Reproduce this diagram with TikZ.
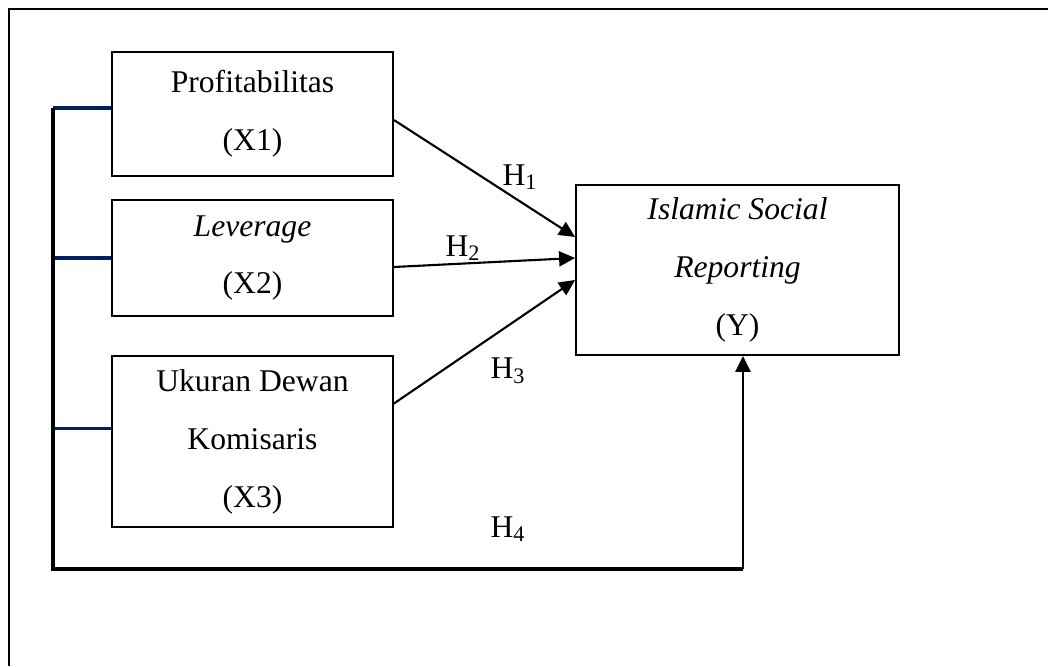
\documentclass[tikz,border=0pt]{standalone}
\usepackage{fontspec}
\setmainfont{Liberation Serif}
\usetikzlibrary{calc, positioning, arrows.meta}
\definecolor{busblue}{RGB}{0,32,96}
\tikzset{
    var/.style={draw, line width=1.1pt, align=center, inner sep=0pt,
        font=\fontsize{18}{33}\selectfont},
    hyp/.style={-{Triangle[length=0.32cm,width=0.3cm]}, line width=1.2pt},
    hlabel/.style={font=\fontsize{18}{20}\selectfont, inner sep=0pt},
    stub/.style={color=busblue, line width=2pt}
}

\begin{document}
\begin{tikzpicture}[x=0.02cm,y=-0.02cm]
    \useasboundingbox (0,0) rectangle (1048,666);
    % frame (only top and left visible)
    \draw[line width=1.1pt] (1048,9) -- (9,9) -- (9,666);
    % variables
    \node[var, minimum width=5.62cm, minimum height=2.48cm] (X1) at (252.5,114) {Profitabilitas\\(X1)};
    \node[var, minimum width=5.62cm, minimum height=2.32cm] (X2) at (252.5,258) {\textit{Leverage}\\(X2)};
    \node[var, minimum width=5.62cm, minimum height=3.42cm] (X3) at (252.5,441.5) {Ukuran Dewan\\Komisaris\\(X3)};
    \node[var, minimum width=6.46cm, minimum height=3.40cm] (Y) at (737.5,270) {\textit{Islamic Social}\\\textit{Reporting}\\(Y)};
    % hypotheses
    \draw[hyp] ($(X1.east)+(0,6)$) -- ($(Y.west)+(0,-33)$);
    \draw[hyp] ($(X2.east)+(0,9)$) -- ($(Y.west)+(0,-12)$);
    \draw[hyp] ($(X3.east)+(0,-38)$) -- ($(Y.west)+(0,10)$);
    \node[hlabel] (h1) at (520,177) {H\textsubscript{1}};
    \node[hlabel] (h2) at (463,248) {H\textsubscript{2}};
    \node[hlabel] (h3) at (508,371) {H\textsubscript{3}};
    \node[hlabel] (h4) at (508,529) {H\textsubscript{4}};
    % simultaneous path
    \coordinate (busTop) at (53,108);
    \coordinate (busBot) at (53,569);
    \coordinate (yIn) at ($(Y.south)+(5.5,0)$);
    \draw[stub] ($(X1.west)+(0,-6)$) -- (busTop);
    \draw[stub] (X2.west) -- (X2.west -| busTop);
    \draw[stub] ($(X3.west)+(0,-13)$) -- ($(X3.west -| busTop)+(0,-13)$);
    \draw[line width=2pt] (busTop) -- (busBot) -- (busBot -| yIn);
    \draw[hyp, line width=1.6pt] (busBot -| yIn) -- (yIn);
\end{tikzpicture}
\end{document}
